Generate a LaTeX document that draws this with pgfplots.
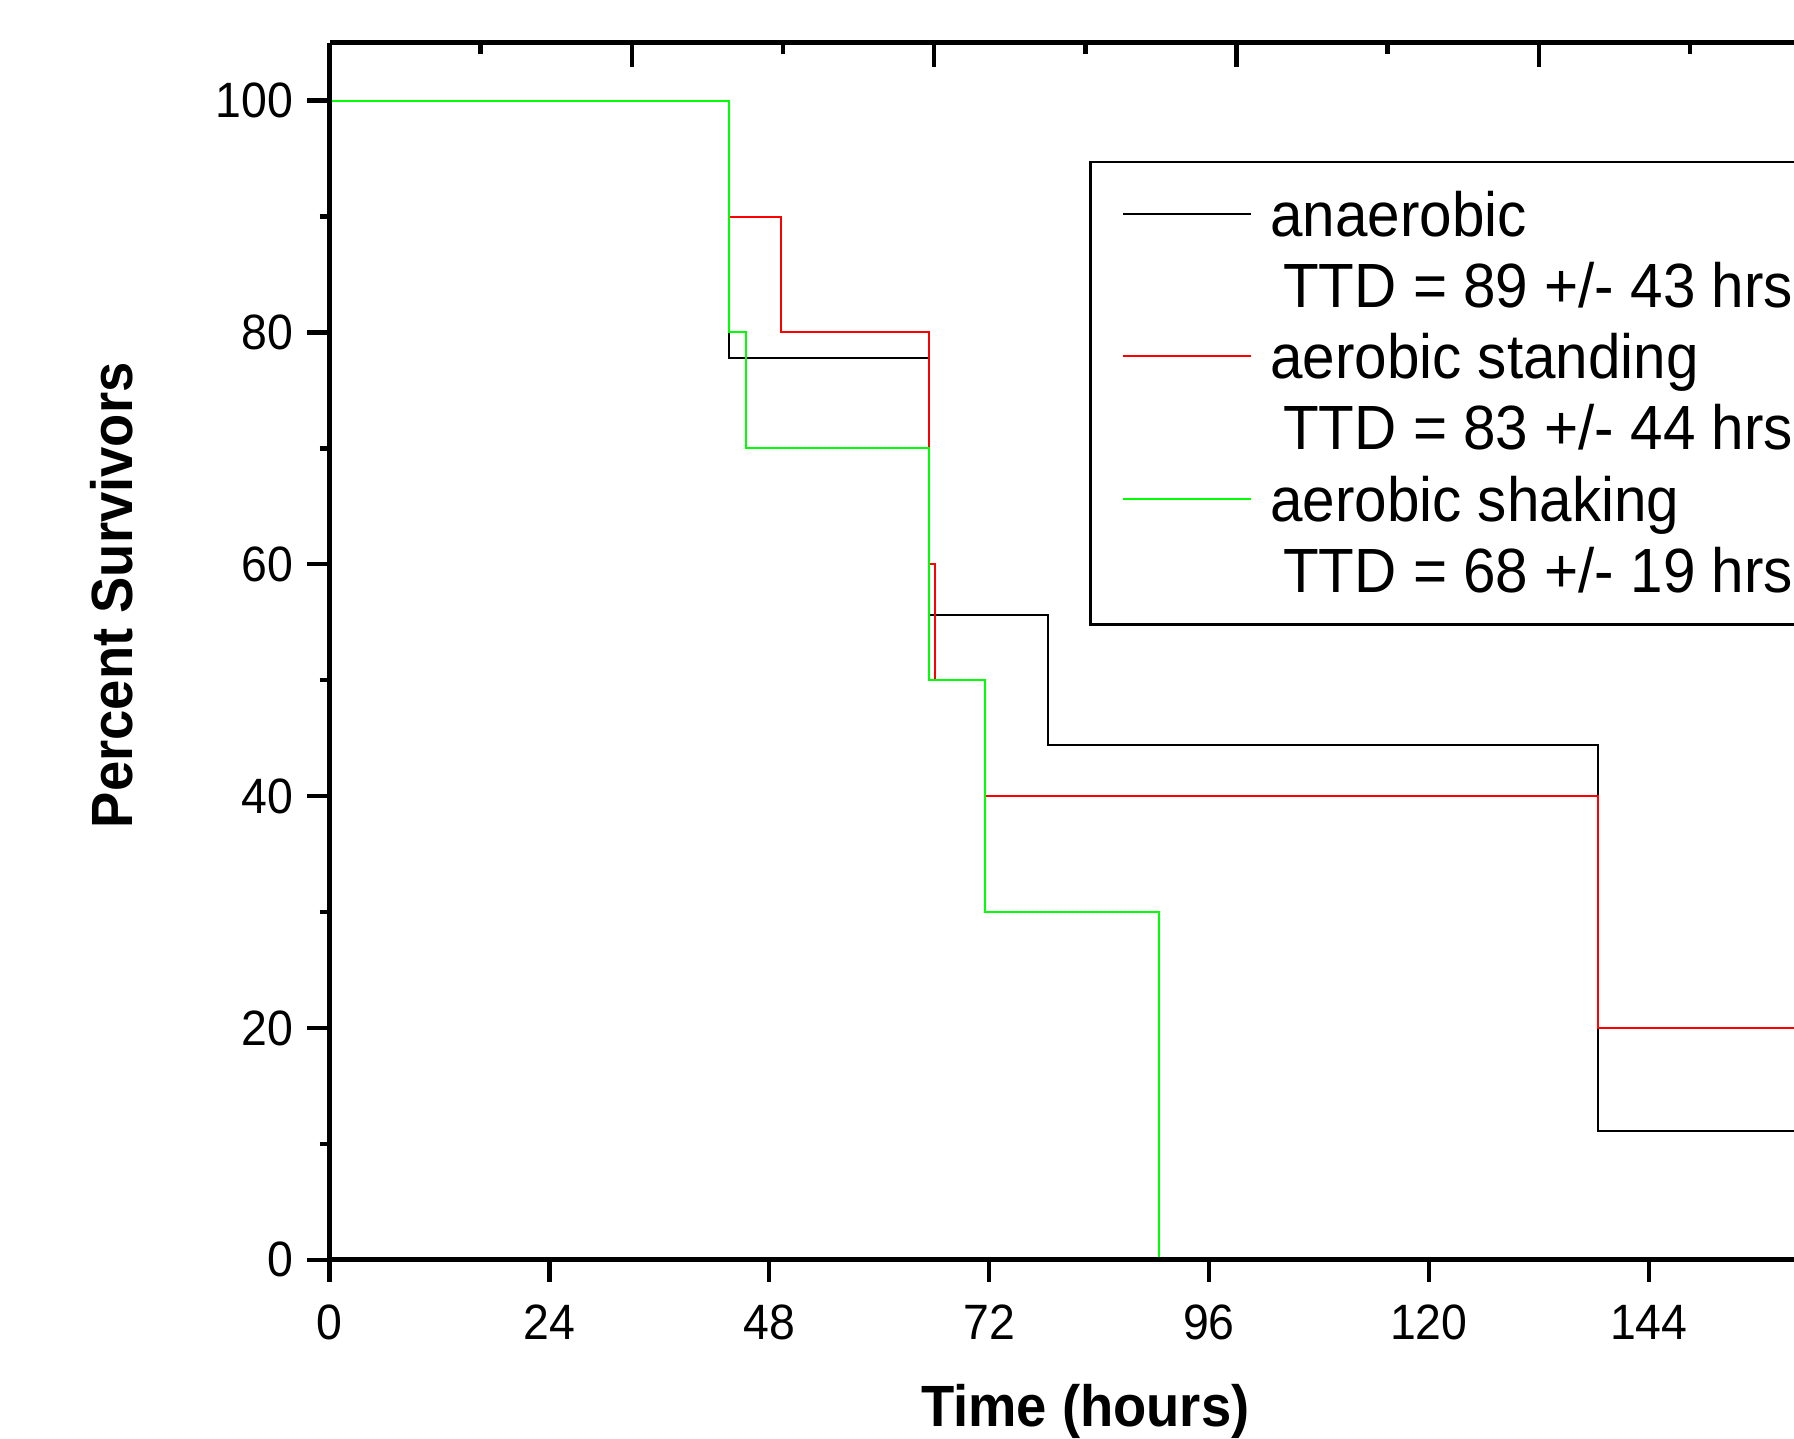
\documentclass[border=0pt]{standalone}
\usepackage{fontspec}
\setmainfont{Liberation Sans}
\usepackage{pgfplots}
\pgfplotsset{compat=1.18}
\newcommand{\tall}[1]{\scalebox{1}[1.07]{#1}}
\begin{document}
\begin{tikzpicture}
% top axis: separate tick spacing, ticks pointing in
\begin{axis}[
  at={(0pt,0pt)}, anchor=south west,
  scale only axis,
  width=377.9pt, height=304.25pt,
  xmin=0, xmax=165, ymin=0, ymax=105,
  axis x line*=top, axis y line=none,
  axis line style={line width=1.25pt, -},
  xtick={0,33,...,165}, minor xtick={16.5,49.5,...,148.5},
  xticklabels={}, ytick=\empty,
  tick align=inside,
  major tick length=6pt, minor tick length=2.75pt,
  every tick/.style={line width=1.1pt, black},
]
\end{axis}
\begin{axis}[
  at={(0pt,0pt)}, anchor=south west,
  scale only axis,
  width=377.9pt, height=304.25pt,
  xmin=0, xmax=165, ymin=0, ymax=105,
  axis x line*=bottom, axis y line*=left,
  axis line style={line width=1.25pt, -},
  axis on top,
  xtick={0,24,...,144}, ytick={0,20,...,100},
  minor ytick={10,30,...,90},
  tick align=outside,
  major tick length=5.5pt, minor tick length=2.5pt,
  every tick/.style={line width=1.1pt, black},
  /pgf/number format/assume math mode=true,
  xticklabel={\tall{\pgfmathprintnumber{\tick}}},
  yticklabel={\tall{\pgfmathprintnumber{\tick}}},
  ticklabel style={font=\fontsize{11.6}{12}\selectfont},
  xticklabel style={yshift=-2.3pt},
  xlabel={\tall{Time (hours)}},
  ylabel={\tall{Percent Survivors}},
  xlabel style={at={(axis description cs:0.5,-0.1243)}, anchor=center, font=\bfseries\fontsize{13.6}{14}\selectfont},
  ylabel style={at={(axis description cs:-0.1439,0.546)}, anchor=center, font=\bfseries\fontsize{13.6}{14}\selectfont},
  legend cell align=left,
  legend image code/.code={\draw[#1, line width=0.5pt] (0pt,0.4pt) -- (32pt,0.4pt);},
  legend style={at={(axis description cs:0.5025,0.9028)}, anchor=north west,
    draw=black, line width=0.6pt, inner xsep=8pt, inner ysep=4.4pt,
    row sep=0pt, column sep=4.5pt,
    font=\fontsize{14.6}{17.8}\selectfont,
    nodes={inner sep=0pt, text height=14.1pt, text depth=3.7pt}},
]
\addplot[const plot, black, line width=0.5pt] coordinates {
  (0,100) (43.6,77.8) (65.4,55.6) (78.4,44.4) (138.5,11.1) (165,11.1)
};
\addlegendentry{\tall{anaerobic}}
\addlegendimage{empty legend}
\addlegendentry{\hspace{3.25pt}\tall{TTD = 89 +/- 43 hrs}}
\addplot[const plot, red, line width=0.5pt] coordinates {
  (0,100) (43.6,90) (49.3,80) (65.4,60) (66.1,50) (71.6,40) (138.5,20) (165,20)
};
\addlegendentry{\tall{aerobic standing}}
\addlegendimage{empty legend}
\addlegendentry{\hspace{3.25pt}\tall{TTD = 83 +/- 44 hrs}}
\addplot[const plot, green, line width=0.5pt] coordinates {
  (0,100) (43.6,80) (45.5,70) (65.4,50) (71.6,30) (90.5,0)
};
\addlegendentry{\tall{aerobic shaking}}
\addlegendimage{empty legend}
\addlegendentry{\hspace{3.25pt}\tall{TTD = 68 +/- 19 hrs}}
\end{axis}
\pgfresetboundingbox
\path[use as bounding box] (-82.375pt,-44.575pt) rectangle (366.125pt,314.925pt);
\end{tikzpicture}
\end{document}
